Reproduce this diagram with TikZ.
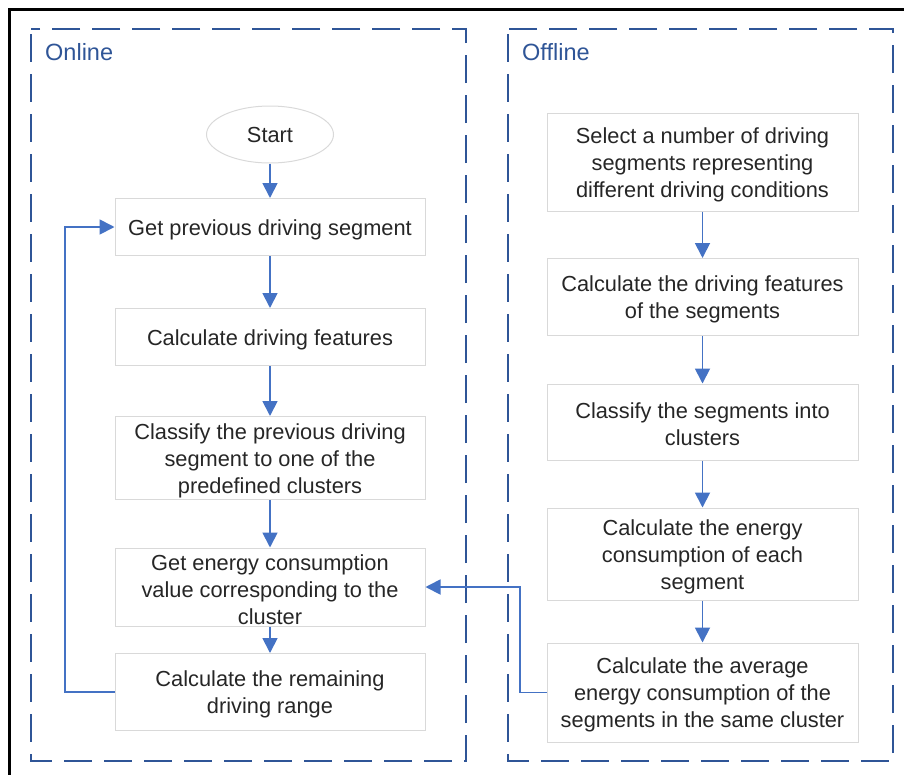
\documentclass[tikz,border=0pt]{standalone}
\usepackage{fontspec}
\setmainfont{Liberation Sans}
\usetikzlibrary{arrows.meta,shapes.geometric}
\definecolor{txt}{HTML}{262626}
\definecolor{frame}{HTML}{2F5597}
\definecolor{flow}{HTML}{4472C4}
\definecolor{boxline}{HTML}{D9D9D9}
% invisible strut that gives the first text line some extra headroom
\newcommand\firstline{\rule{0pt}{21pt}}
\tikzset{
  stepbox/.style={draw=boxline, line width=1pt, rectangle, minimum width=310pt,
    align=center, text=txt, font=\fontsize{21.8}{27}\selectfont, inner sep=0pt},
  panel/.style={draw=frame, line width=1.5pt, dash pattern=on 28pt off 12pt, dash phase=35pt},
  paneltitle/.style={text=frame, font=\fontsize{23.5}{27}\selectfont, anchor=west, inner sep=0pt},
  flowline/.style={draw=flow, line width=1.8pt, -{Triangle[width=15pt,length=15pt]}},
}
\begin{document}
\begin{tikzpicture}[x=1pt,y=-1pt]
\useasboundingbox (0,0) rectangle (904,774);
% outer frame
\draw[line width=3pt] (9,790) -- (9,9) -- (920,9);
% panels
\draw[panel] (31,29) rectangle (466,761);
\draw[panel] (508,29) rectangle (893,761);
\node[paneltitle] (ton) at (45,52) {Online};
\node[paneltitle] (toff) at (522,52) {Offline};

% online column
\node[ellipse, draw=boxline, line width=1pt, minimum width=127pt, minimum height=57pt,
  text=txt, font=\fontsize{21.8}{27}\selectfont, inner sep=0pt] (start) at (270,134.5) {Start};
\node[stepbox, minimum height=57pt] (a1) at (270,227) {\firstline Get previous driving segment};
\node[stepbox, minimum height=57pt] (a2) at (270,337) {\firstline Calculate driving features};
\node[stepbox, minimum height=83pt] (a3) at (270,458) {\firstline Classify the previous driving\\segment to one of the\\predefined clusters};
\node[stepbox, minimum height=78pt] (a4) at (270,587) {\firstline Get energy consumption\\value corresponding to the\\cluster};
\node[stepbox, minimum height=77pt] (a5) at (270,692) {\firstline Calculate the remaining\\driving range};

% offline column
\node[stepbox, minimum width=311pt, minimum height=98pt] (b1) at (702.5,162) {\firstline Select a number of driving\\segments representing\\different driving conditions};
\node[stepbox, minimum width=311pt, minimum height=77pt] (b2) at (702.5,297) {\firstline Calculate the driving features\\of the segments};
\node[stepbox, minimum width=311pt, minimum height=76pt] (b3) at (702.5,422) {\firstline Classify the segments into\\clusters};
\node[stepbox, minimum width=311pt, minimum height=92pt] (b4) at (702.5,554) {\firstline Calculate the energy\\consumption of each\\segment};
\node[stepbox, minimum width=311pt, minimum height=99pt] (b5) at (702.5,692.5) {\firstline Calculate the average\\energy consumption of the\\segments in the same cluster};

% online flow
\draw[flowline] (start) -- (a1);
\draw[flowline] (a1) -- (a2);
\draw[flowline] (a2) -- (a3);
\draw[flowline] (a3) -- (a4);
\draw[flowline] (a4) -- (a5);
\coordinate (loop) at (65,0);
\draw[flowline] (a5.west) -- (a5.west -| loop) -- (a1.west -| loop) -- (a1.west);

% offline flow
\draw[flowline] (b1) -- (b2);
\draw[flowline] (b2) -- (b3);
\draw[flowline] (b3) -- (b4);
\draw[flowline] (b4) -- (b5);
\coordinate (link) at (520,0);
\draw[flowline] (b5.west) -- (b5.west -| link) -- (a4.east -| link) -- (a4.east);
\end{tikzpicture}
\end{document}
